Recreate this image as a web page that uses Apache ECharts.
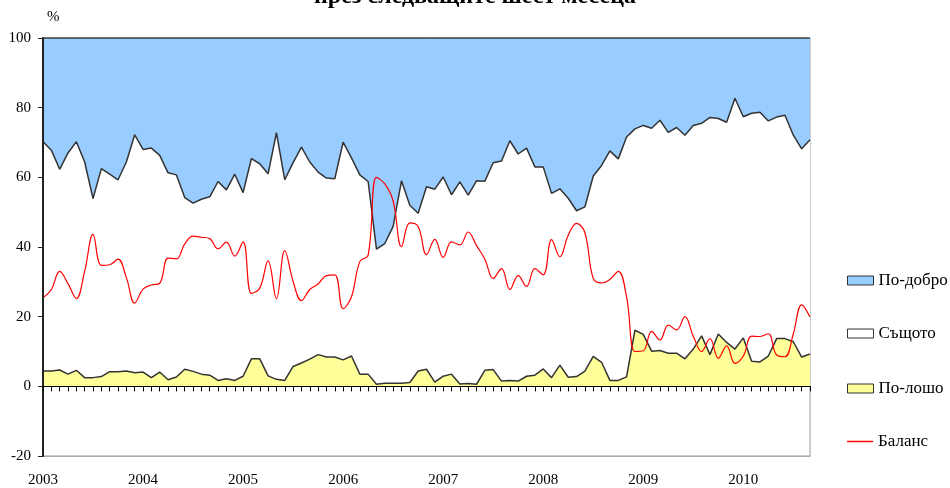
<!DOCTYPE html>
<html>
<head>
<meta charset="utf-8">
<script src="https://cdn.jsdelivr.net/npm/echarts@6/dist/echarts.min.js"></script>
<style>
html,body{margin:0;padding:0;background:#fff;}
#c{width:950px;height:488px;}
</style>
</head>
<body>
<div id="c"></div>
<script>
// ---- data ----
var years = ['2003','2004','2005','2006','2007','2008','2009','2010'];
var nMonths = 93; // Jan 2003 .. Sep 2010
var titleText = 'през следващите шест месеца';
var seriesNames = ['По-добро','Същото','По-лошо','Баланс'];

var worse = [4.4,4.4,4.7,3.5,4.6,2.5,2.5,2.8,4.2,4.2,4.4,3.9,
  4.1,2.5,4.1,1.9,2.7,4.9,4.3,3.5,3.2,1.7,2.2,1.7,
  2.9,7.9,7.9,3.0,2.0,1.7,5.7,6.7,7.8,9.1,8.4,8.4,
  7.6,8.7,3.5,3.5,0.6,0.9,0.9,0.9,1.1,4.4,4.9,1.2,
  2.9,3.5,0.7,0.8,0.6,4.6,4.8,1.5,1.7,1.5,2.9,3.2,
  5.0,2.5,6.1,2.6,2.8,4.4,8.6,6.9,1.7,1.7,2.7,16.1,
  14.9,10.1,10.3,9.5,9.5,7.9,10.7,14.5,9.1,15.0,12.6,10.7,
  13.9,7.2,7.0,8.7,13.7,13.7,12.8,8.4,9.3];

var same = [65.8,63.4,57.6,63.5,65.6,61.9,51.4,59.7,56.7,55.1,60.0,68.3,
  63.9,65.9,62.2,59.4,58.0,49.3,48.3,50.2,51.2,57.1,54.2,59.2,
  52.7,57.5,56.0,58.0,70.8,57.6,58.5,62.0,56.6,52.4,51.4,51.2,
  62.5,56.9,57.2,55.3,38.8,40.1,45.0,58.1,50.9,45.3,52.4,55.4,
  57.2,51.5,58.0,54.1,58.4,54.3,59.4,63.2,68.8,65.2,65.5,59.8,
  58.0,52.9,50.6,51.4,47.6,47.1,51.8,56.5,65.9,63.6,68.9,57.8,
  60.0,64.0,66.1,63.4,64.8,64.2,64.2,61.0,68.1,61.9,63.2,72.0,
  63.5,71.2,71.7,67.5,63.6,64.1,59.3,59.8,61.5];

var better = [29.8,32.2,37.7,33.0,29.8,35.6,46.1,37.5,39.1,40.7,35.6,27.8,
  32.0,31.6,33.7,38.7,39.3,45.8,47.4,46.3,45.6,41.2,43.6,39.1,
  44.4,34.6,36.1,39.0,27.2,40.7,35.8,31.3,35.6,38.5,40.2,40.4,
  29.9,34.4,39.3,41.2,60.6,59.0,54.1,41.0,48.0,50.3,42.7,43.4,
  39.9,45.0,41.3,45.1,41.0,41.1,35.8,35.3,29.5,33.3,31.6,37.0,
  37.0,44.6,43.3,46.0,49.6,48.5,39.6,36.6,32.4,34.7,28.4,26.1,
  25.1,25.9,23.6,27.1,25.7,27.9,25.1,24.5,22.8,23.1,24.2,17.3,
  22.6,21.6,21.3,23.8,22.7,22.2,27.9,31.8,29.2];

var balance = [25.4,27.8,33.0,29.5,25.2,33.1,43.6,34.7,34.9,36.5,31.2,23.9,
  27.9,29.1,29.6,36.8,36.6,40.9,43.1,42.8,42.4,39.5,41.4,37.4,
  41.5,26.7,28.2,36.0,25.2,39.0,30.1,24.6,27.8,29.4,31.8,32.0,
  22.3,25.7,35.8,37.7,60.0,58.1,53.2,40.1,46.9,45.9,37.8,42.2,
  37.0,41.5,40.6,44.3,40.4,36.5,31.0,33.8,27.8,31.8,28.7,33.8,
  32.0,42.1,37.2,43.4,46.8,44.1,31.0,29.7,30.7,33.0,25.7,10.0,
  10.2,15.8,13.3,17.6,16.2,20.0,14.4,10.0,13.7,8.1,11.6,6.6,
  8.7,14.4,14.3,15.1,9.0,8.5,15.1,23.4,19.9];

// ---- categories ----
var cats = [];
for (var y = 0; y < years.length; y++) {
  for (var m = 1; m <= 12; m++) {
    if (cats.length < nMonths) cats.push(years[y] + '-' + (m < 10 ? '0' + m : m));
  }
}

var serif = '"Liberation Serif","Times New Roman",serif';
var chart = echarts.init(document.getElementById('c'), null, {renderer: 'canvas'});

function legendFor(name, top, icon, h, style) {
  return {
    data: [{name: name, icon: icon}],
    orient: 'vertical',
    left: 847,
    top: top,
    padding: 0,
    itemWidth: 26,
    itemHeight: h,
    itemGap: 5,
    selectedMode: false,
    itemStyle: style,
    textStyle: {fontFamily: serif, fontSize: 17, color: '#000', lineHeight: 17}
  };
}

var option = {
  animation: false,
  backgroundColor: '#fff',
  graphic: [
    {type: 'text', left: 'center', top: -15, style: {text: titleText, font: 'bold 24px ' + serif, fill: '#000'}},
    {type: 'text', left: 47, top: 10, style: {text: '%', font: '15px ' + serif, fill: '#000'}}
  ],
  grid: {left: 43, right: 140, top: 38, bottom: 30, show: true, borderColor: '#999', borderWidth: 1, backgroundColor: 'transparent'},
  legend: [
    legendFor(seriesNames[0], 272, 'rect', 9, {borderColor: '#333', borderWidth: 1}),
    legendFor(seriesNames[1], 325, 'rect', 9, {borderColor: '#333', borderWidth: 1}),
    legendFor(seriesNames[2], 380, 'rect', 9, {borderColor: '#333', borderWidth: 1}),
    legendFor(seriesNames[3], 433, 'rect', 1.5, {color: '#FF0000', borderWidth: 0})
  ],
  xAxis: [
    {
      type: 'category', data: cats, boundaryGap: false, position: 'bottom',
      axisLine: {onZero: true, lineStyle: {color: '#000', width: 1}},
      axisTick: {show: true, interval: 0, length: 5, inside: false, lineStyle: {color: '#000'}},
      axisLabel: {show: false},
      splitLine: {show: false},
      z: 10
    },
    {
      type: 'category', data: cats, boundaryGap: false, position: 'bottom',
      axisLine: {onZero: false, show: true, lineStyle: {color: '#aaa', width: 1}},
      axisTick: {show: false},
      axisLabel: {
        show: true, interval: 11, margin: 17,
        fontFamily: serif, fontSize: 15, color: '#000',
        formatter: function (v) { return v.slice(0, 4); }
      },
      splitLine: {show: false}
    }
  ],
  yAxis: {
    type: 'value', min: -20, max: 100, interval: 20, z: 10,
    axisLine: {show: true, lineStyle: {color: '#222', width: 2}},
    axisTick: {show: true, length: 5, lineStyle: {color: '#222'}},
    axisLabel: {fontFamily: serif, fontSize: 15, color: '#000', margin: 12},
    splitLine: {show: false}
  },
  series: [
    {
      name: seriesNames[2], type: 'line', stack: 'tot', data: worse, symbol: 'none',
      itemStyle: {color: '#FFFF99'},
      lineStyle: {color: '#333', width: 1.5},
      areaStyle: {color: '#FFFF99', opacity: 1}
    },
    {
      name: seriesNames[1], type: 'line', stack: 'tot', data: same, symbol: 'none',
      itemStyle: {color: '#FFFFFF'},
      lineStyle: {color: '#333', width: 1.5},
      areaStyle: {color: '#FFFFFF', opacity: 1}
    },
    {
      name: seriesNames[0], type: 'line', stack: 'tot', data: better, symbol: 'none',
      itemStyle: {color: '#99CCFF'},
      lineStyle: {color: '#333', width: 1.5},
      areaStyle: {color: '#99CCFF', opacity: 1}
    },
    {
      name: seriesNames[3], type: 'line', data: balance, symbol: 'none', smooth: 0.4,
      itemStyle: {color: '#FF0000'},
      lineStyle: {color: '#FF0000', width: 1.2},
      z: 5
    }
  ]
};
chart.setOption(option);
</script>
</body>
</html>
